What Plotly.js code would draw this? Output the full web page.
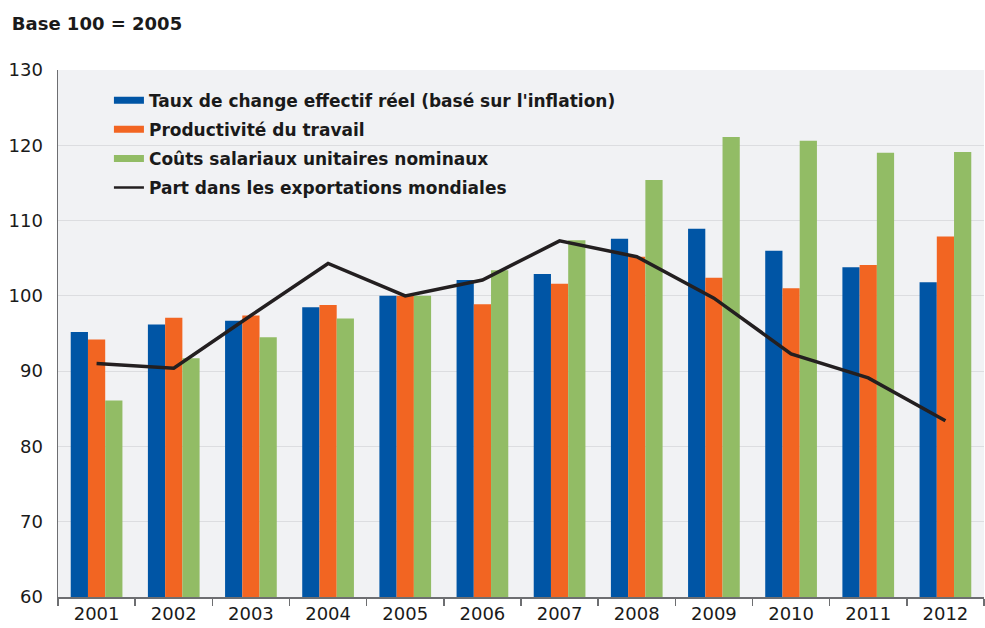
<!DOCTYPE html>
<html>
<head>
<meta charset="utf-8">
<script src="https://cdn.plot.ly/plotly-3.0.1.min.js"></script>
<style>html,body{margin:0;padding:0;background:#fff;}#chart{width:985px;height:628px;}</style>
</head>
<body>
<div id="chart"></div>
<script>
const years = ["2001","2002","2003","2004","2005","2006","2007","2008","2009","2010","2011","2012"];
const tauxChange = [95.2, 96.2, 96.7, 98.5, 100.0, 102.1, 102.9, 107.6, 108.9, 106.0, 103.8, 101.8];
const productivite = [94.2, 97.1, 97.4, 98.8, 100.0, 98.9, 101.6, 105.2, 102.4, 101.0, 104.1, 107.9];
const coutsSalariaux = [86.1, 91.7, 94.5, 97.0, 100.0, 103.4, 107.4, 115.4, 121.1, 120.6, 119.0, 119.1];
const partExportations = [91.0, 90.4, 97.4, 104.3, 100.0, 102.1, 107.3, 105.2, 99.7, 92.3, 89.1, 83.4];

const names = [
  "Taux de change effectif réel (basé sur l'inflation)",
  "Productivité du travail",
  "Coûts salariaux unitaires nominaux",
  "Part dans les exportations mondiales"
];
const colors = ["#0055a5", "#f26522", "#92bc65", "#231f20"];
const FONT = "DejaVu Sans, sans-serif";

const barSeries = [tauxChange, productivite, coutsSalariaux];
const traces = barSeries.map((vals, i) => ({
  type: "bar", x: years, y: vals, name: names[i],
  marker: {color: colors[i], line: {width: 0}},
  showlegend: false, hoverinfo: "x+y"
}));
traces.push({
  type: "scatter", mode: "lines", x: years, y: partExportations, name: names[3],
  line: {color: colors[3], width: 3.5}, showlegend: false
});
// legend entries (line swatches), one group each so the group gap spaces the rows
names.forEach((n, i) => {
  traces.push({
    type: "scatter", mode: "lines", x: [null], y: [null], name: n, legendgroup: "g" + i,
    line: {color: colors[i], width: i < 3 ? 7 : 2.5}, showlegend: true, hoverinfo: "skip"
  });
});

const layout = {
  width: 985, height: 628,
  paper_bgcolor: "#ffffff", plot_bgcolor: "#f1f2f4",
  margin: {l: 58, r: 1, t: 70, b: 31},
  font: {family: FONT, color: "#1a1a1a", size: 18},
  title: {
    text: "<b>Base 100 = 2005</b>", font: {family: FONT, size: 18, color: "#1a1a1a"},
    xref: "container", yref: "container", x: 0.012, xanchor: "left", y: 0.963, yanchor: "middle"
  },
  barmode: "group", bargap: 0.33, bargroupgap: 0,
  xaxis: {
    type: "category", showline: true, linecolor: "#6d6e71", linewidth: 1.5,
    ticks: "outside", tickson: "boundaries", ticklen: 7, tickcolor: "#6d6e71", tickwidth: 1.5,
    tickfont: {family: FONT, size: 18, color: "#1a1a1a"}, showgrid: false, fixedrange: true
  },
  yaxis: {
    range: [60, 130], dtick: 10, tick0: 60, showline: true, linecolor: "#6d6e71", linewidth: 1.5,
    ticks: "outside", ticklen: 10, tickcolor: "rgba(0,0,0,0)",
    showgrid: true, gridcolor: "#dcdde0", gridwidth: 1.2, zeroline: false,
    tickfont: {family: FONT, size: 18, color: "#1a1a1a"}, fixedrange: true
  },
  legend: {
    x: 0.055, y: 0.976, xanchor: "left", yanchor: "top", bgcolor: "rgba(0,0,0,0)",
    font: {family: FONT, size: 17, color: "#1a1a1a", weight: "bold"},
    itemwidth: 30, tracegroupgap: 4, traceorder: "grouped"
  },
  showlegend: true
};

Plotly.newPlot("chart", traces, layout, {displayModeBar: false, staticPlot: true});
</script>
</body>
</html>
